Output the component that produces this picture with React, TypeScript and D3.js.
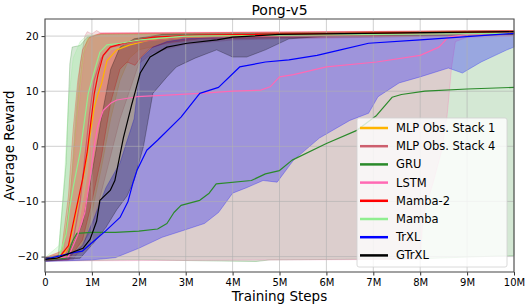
import React, { useEffect, useRef } from "react";
import * as d3 from "d3";

type Pt = [number, number];

// steps in millions, reward values
const stack1Mean: Pt[] = [[0,-20.5],[0.3,-20.3],[0.5,-18.5],[0.6,-14.5],[0.7,-10.5],[0.8,-6.5],[0.9,-1.5],[1.05,7],[1.13,9.5],[1.21,11.5],[1.32,15.5],[1.53,17.5],[1.81,18.4],[2.24,19.3],[3,19.8],[5,20.3],[10,20.8]];
const stack1Lo: Pt[] = [[0,-20.8],[0.5,-20.6],[0.8,-19],[1.0,-12],[1.2,-4],[1.4,5],[1.6,12],[1.8,16],[2.0,17.5],[2.5,18.5],[3,19],[4,19.5],[10,20.2]];
const stack1Hi: Pt[] = [[0,-20.2],[0.35,-19.5],[0.5,-12],[0.6,-3],[0.7,8],[0.8,16],[0.9,19.5],[1.1,20.3],[10,21]];

const stack4Mean: Pt[] = [[0,-20.5],[0.4,-20.2],[0.6,-17],[0.75,-10],[0.85,-2],[0.95,6],[1.05,12],[1.2,16],[1.4,18],[1.7,18.5],[2,19],[3,19.8],[10,20.5]];
const stack4Lo: Pt[] = [[0,-20.8],[0.6,-20.6],[1.0,-15],[1.3,-5],[1.6,5],[1.8,10],[2.0,15],[2.3,17],[3,18.5],[4,19.3],[5,19.5],[10,20.2]];
const stack4Hi: Pt[] = [[0,-20.2],[0.4,-19],[0.55,-8],[0.65,5],[0.75,15],[0.85,20],[0.9,20.8],[1.0,20.4],[1.1,21],[1.2,20.5],[10,21]];

const gruMean: Pt[] = [[0,-20.5],[0.45,-20.3],[0.6,-17],[0.68,-15.8],[1.0,-15.6],[1.5,-15.6],[2.0,-15.4],[2.4,-15],[2.6,-14],[2.75,-12],[2.9,-10.7],[3.3,-9.8],[3.5,-8.5],[3.65,-6.8],[4.4,-6.2],[4.7,-5],[5.0,-4.4],[5.27,-2.5],[6.0,0.5],[6.65,2.9],[7.07,5.6],[7.4,8.9],[7.6,9.4],[8.1,10],[9,10.4],[10,10.7]];
const gruLo: Pt[] = [[0,-20.8],[2,-20.6],[4.5,-20.9],[4.8,-20.6],[8,-20.4],[10,-19.8]];
const gruHi: Pt[] = [[0,-20.2],[0.28,-20],[0.45,-3],[0.53,15],[0.58,18],[0.75,18.3],[0.9,19.8],[1.2,20.3],[10,21]];

const lstmMean: Pt[] = [[0,-20.5],[0.5,-20],[0.7,-16],[0.85,-12],[0.96,-6],[1.05,0],[1.12,3.5],[1.24,6.5],[1.4,7.8],[1.53,8.4],[1.96,9],[2.6,9.3],[3.3,9.6],[4,10],[4.6,10.2],[4.8,10.8],[5,12.6],[5.3,13],[6,14.4],[7.07,15.3],[8,16.5],[8.4,18],[8.6,19.8],[9,20.3],[10,20.5]];
const lstmLo: Pt[] = [[0,-20.8],[8.0,-20.5],[8.06,-12.8],[8.27,-6.7],[8.46,-0.7],[8.57,5.3],[8.67,14.4],[8.75,19],[9,19.8],[10,20]];
const lstmHi: Pt[] = [[0,-20.2],[0.4,-19.5],[0.55,-10],[0.7,5],[0.85,17],[1.0,20],[1.2,20.6],[10,21]];

const mamba2Mean: Pt[] = [[0,-20.5],[0.3,-20.2],[0.5,-18],[0.6,-14],[0.7,-10],[0.8,-6],[0.9,-1],[1.05,9.5],[1.13,13],[1.24,16.5],[1.39,18],[1.67,18.7],[1.88,19.1],[2.3,19.8],[3.3,20.2],[10,20.8]];
const mamba2Lo: Pt[] = [[0,-20.8],[0.5,-20.6],[0.8,-17],[1.0,-10],[1.2,-2],[1.4,8],[1.6,14],[1.75,15.3],[1.92,14.7],[2.03,16],[2.24,17.8],[2.6,18.8],[3.3,19.5],[10,20.3]];
const mamba2Hi: Pt[] = [[0,-20.2],[0.35,-19],[0.5,-9],[0.6,3],[0.7,12],[0.8,17.5],[0.95,19.8],[1.2,20.5],[10,21]];

const mambaMean: Pt[] = [[0,-20.5],[0.3,-20],[0.45,-16],[0.53,-11],[0.6,-7.5],[0.75,-1],[0.92,9.5],[1.07,14.2],[1.17,17.1],[1.32,18.4],[1.6,18.7],[2.03,19.3],[2.4,19.6],[3,20],[10,20.5]];
const mambaLo: Pt[] = [[0,-20.8],[0.4,-20.5],[0.7,-15],[0.9,-5],[1.0,5],[1.2,15],[1.4,17.5],[2,19],[3,19.8],[10,20.3]];
const mambaHi: Pt[] = [[0,-20.2],[0.3,-18],[0.42,-5],[0.5,8],[0.6,16],[0.75,19],[0.9,20.2],[10,20.8]];

const trxlMean: Pt[] = [[0,-20.5],[0.6,-19.3],[0.8,-19],[1.0,-17.5],[1.3,-15.3],[1.6,-12.9],[1.77,-10],[1.88,-6.5],[1.96,-4.4],[2.17,-0.7],[2.4,1.1],[2.9,5.3],[3.3,9.6],[3.7,10.7],[4.15,14.4],[4.7,15.3],[5.2,15.7],[5.8,16.5],[6.3,17.5],[6.9,18.7],[8,19.3],[10,20.5]];
const trxlLo: Pt[] = [[0,-20.9],[1.0,-20.6],[1.5,-20.2],[2,-18.5],[2.5,-16.5],[2.9,-15.4],[3.4,-14],[3.7,-12],[4,-8.5],[4.3,-7.5],[4.65,-6.2],[4.95,-6.5],[5.3,-2.5],[5.85,1.5],[6.5,4.7],[6.9,6],[7.1,9],[7.55,11.5],[8,12.6],[8.6,14.2],[8.9,13.3],[9.3,15.3],[9.85,17.5],[10,18]];
const trxlHi: Pt[] = [[0,-20.2],[0.5,-20],[0.8,-18],[1.0,-14],[1.3,-7.5],[1.6,-3],[1.9,5],[2.0,12],[2.05,16],[2.3,18],[2.6,19],[3,19.5],[4,20],[10,20.8]];

const gtrxlMean: Pt[] = [[0,-20.5],[0.25,-20.3],[0.81,-18.5],[0.96,-16.9],[1.1,-13.6],[1.17,-9.8],[1.39,-8],[1.49,-6.2],[1.67,1.5],[1.85,7.6],[1.92,9.8],[2.03,13.3],[2.24,16.2],[2.6,18],[3.03,18.7],[3.67,19.3],[4,19.8],[5,20.3],[10,20.8]];
const gtrxlLo: Pt[] = [[0,-20.8],[0.75,-20.3],[1.03,-17.6],[1.3,-14.7],[1.53,-11.5],[1.75,-9],[1.9,-6.2],[2.1,0],[2.3,9.6],[2.6,12.6],[2.8,14.4],[3.2,16],[3.66,17.5],[4,16.2],[4.3,16.2],[4.7,17.5],[5.2,19.5],[6,20],[10,20.3]];
const gtrxlHi: Pt[] = [[0,-20.2],[0.5,-19.5],[0.8,-14],[1.0,-5],[1.2,5],[1.4,14],[1.6,18],[1.9,19.5],[2.5,20.3],[10,20.8]];

const labels = ["MLP Obs. Stack 1", "MLP Obs. Stack 4", "GRU", "LSTM", "Mamba-2", "Mamba", "TrXL", "GTrXL"];
const colors = ["#ffb400", "#cd5f6e", "#2a8a2a", "#ff69b4", "#ff0000", "#90ee90", "#0000ff", "#000000"];
const bandAlpha = [0.2, 0.2, 0.2, 0.2, 0.2, 0.2, 0.28, 0.25];
const means = [stack1Mean, stack4Mean, gruMean, lstmMean, mamba2Mean, mambaMean, trxlMean, gtrxlMean];
const lows = [stack1Lo, stack4Lo, gruLo, lstmLo, mamba2Lo, mambaLo, trxlLo, gtrxlLo];
const highs = [stack1Hi, stack4Hi, gruHi, lstmHi, mamba2Hi, mambaHi, trxlHi, gtrxlHi];

const xTicks = [0, 1, 2, 3, 4, 5, 6, 7, 8, 9, 10];
const yTicks = [-20, -10, 0, 10, 20];

export default function App() {
  const ref = useRef<SVGSVGElement>(null);
  const width = 529;
  const height = 307;
  const marginLeft = 45;
  const marginRight = 15;
  const marginTop = 19;
  const marginBottom = 35;

  useEffect(() => {
    const svg = d3.select(ref.current);
    svg.selectAll("*").remove();
    const font = "DejaVu Sans, sans-serif";

    const x = d3.scaleLinear().domain([0, 10]).range([marginLeft, width - marginRight]);
    const y = d3.scaleLinear().domain([-22.8, 23.1]).range([height - marginBottom, marginTop]);

    const line = d3.line<Pt>().x((d) => x(d[0])).y((d) => y(d[1]));

    // std bands
    const bands = svg.append("g");
    highs.forEach((hi, i) => {
      const poly = hi.concat(lows[i].slice().reverse());
      bands
        .append("path")
        .attr("d", line(poly) + "Z")
        .attr("fill", colors[i])
        .attr("fill-opacity", bandAlpha[i])
        .attr("stroke", colors[i])
        .attr("stroke-opacity", 0.35)
        .attr("stroke-width", 0.8);
    });

    // grid over the bands, like matplotlib
    const grid = svg.append("g").attr("stroke", "#b0b0b0").attr("stroke-opacity", 0.6).attr("stroke-width", 1);
    xTicks.forEach((t) =>
      grid.append("line").attr("x1", x(t)).attr("x2", x(t)).attr("y1", marginTop).attr("y2", height - marginBottom)
    );
    yTicks.forEach((t) =>
      grid.append("line").attr("x1", marginLeft).attr("x2", width - marginRight).attr("y1", y(t)).attr("y2", y(t))
    );

    // mean curves
    means.forEach((m, i) => {
      svg
        .append("path")
        .datum(m)
        .attr("fill", "none")
        .attr("stroke", colors[i])
        .attr("stroke-width", 1.2)
        .attr("stroke-linejoin", "round")
        .attr("d", line);
    });

    // axes
    const xAxis = svg
      .append("g")
      .attr("transform", `translate(0,${height - marginBottom})`)
      .call(
        d3.axisBottom(x).tickValues(xTicks).tickSize(3.5).tickFormat((d) => (d === 0 ? "0" : `${d}M`))
      );
    const yAxis = svg
      .append("g")
      .attr("transform", `translate(${marginLeft},0)`)
      .call(d3.axisLeft(y).tickValues(yTicks).tickSize(3.5).tickFormat((d) => d3.format("d")(d as number).replace("-", "\u2212")));
    [xAxis, yAxis].forEach((g) => {
      g.select(".domain").remove();
      g.selectAll("text").attr("font-family", font).attr("font-size", 10).attr("fill", "#000");
      g.selectAll(".tick line").attr("stroke", "#333");
    });

    svg
      .append("rect")
      .attr("x", marginLeft)
      .attr("y", marginTop)
      .attr("width", width - marginLeft - marginRight)
      .attr("height", height - marginTop - marginBottom)
      .attr("fill", "none")
      .attr("stroke", "#555")
      .attr("stroke-width", 1.1);

    svg
      .append("text")
      .attr("x", (marginLeft + width - marginRight) / 2)
      .attr("y", 15)
      .attr("text-anchor", "middle")
      .attr("font-family", font)
      .attr("font-size", 14)
      .text("Pong-v5");
    svg
      .append("text")
      .attr("x", (marginLeft + width - marginRight) / 2)
      .attr("y", 301)
      .attr("text-anchor", "middle")
      .attr("font-family", font)
      .attr("font-size", 13.5)
      .text("Training Steps");
    svg
      .append("text")
      .attr("transform", `translate(14,${(marginTop + height - marginBottom) / 2}) rotate(-90)`)
      .attr("text-anchor", "middle")
      .attr("font-family", font)
      .attr("font-size", 13.5)
      .text("Average Reward");

    // legend
    const lg = svg.append("g").attr("transform", "translate(357,118)");
    lg.append("rect")
      .attr("width", 150)
      .attr("height", 149)
      .attr("rx", 2)
      .attr("fill", "#fff")
      .attr("fill-opacity", 0.8)
      .attr("stroke", "#d0d0d0")
      .attr("stroke-width", 0.8);
    labels.forEach((name, i) => {
      const yy = 10 + i * 18.2;
      lg.append("line")
        .attr("x1", 3)
        .attr("x2", 31)
        .attr("y1", yy)
        .attr("y2", yy)
        .attr("stroke", colors[i])
        .attr("stroke-width", 2.5);
      lg.append("text")
        .attr("x", 39)
        .attr("y", yy + 4)
        .attr("font-family", font)
        .attr("font-size", 11.5)
        .text(name);
    });
  }, []);

  return (
    <svg
      ref={ref}
      width={width}
      height={height}
      style={{ position: "absolute", left: 0, top: 0, background: "#fff" }}
    ></svg>
  );
}
